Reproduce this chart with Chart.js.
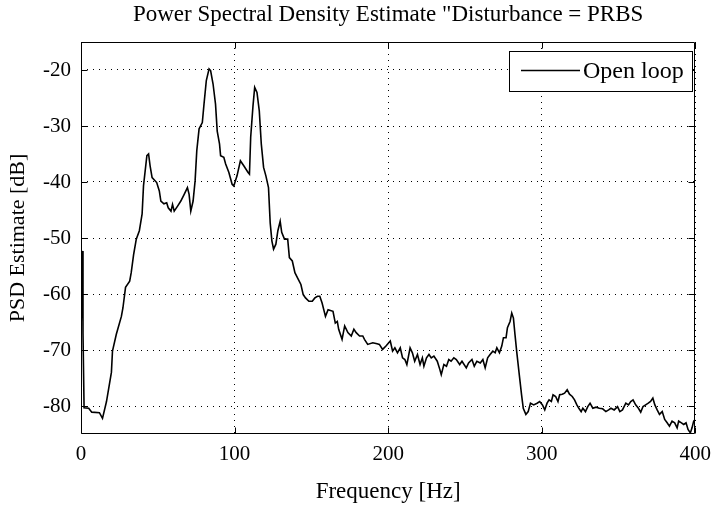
<!DOCTYPE html>
<html>
<head>
<meta charset="utf-8">
<script src="https://cdn.jsdelivr.net/npm/chart.js@4/dist/chart.umd.min.js"></script>
<style>
  html, body { margin: 0; padding: 0; background: #fff; }
  #wrap { width: 719px; height: 505px; position: relative; }
</style>
</head>
<body>
<div id="wrap"><canvas id="c" width="719" height="505"></canvas></div>
<script>
const chartTitle = 'Power Spectral Density Estimate "Disturbance = PRBS';
const xAxisLabel = 'Frequency [Hz]';
const yAxisLabel = 'PSD Estimate [dB]';
const seriesName = 'Open loop';
const xTicks = [0, 100, 200, 300, 400];
const yTicks = [-80, -70, -60, -50, -40, -30, -20];

const frequency = [
  0, 1, 1.3, 2, 5, 7, 12, 14, 16.6, 19.8, 20.5, 23, 26.3, 27.3, 29, 31.7, 32.7, 34.3, 36, 38, 39.8,
  40.7, 42.9, 44, 45, 46.3, 49.3, 51, 52, 54, 55.8, 56.8, 58.6, 59.6, 60.7, 62.9, 65, 67.2, 69.3, 70.4, 71.5,
  73, 74.3, 75.4, 76.9, 79, 80.1, 81.6, 83.4, 84.4, 86, 87.6, 88.7, 90.2, 90.9, 93, 94.2, 96.3, 98.4, 99.5, 101.6,
  103.8, 106, 108.8, 109.7, 110.5, 112, 113.1, 114.6, 116.1, 117.4, 118.9, 120.4, 122.1, 123.2, 124.3, 125.4, 126.9, 128.2, 129.7, 130.7,
  132.5, 134.6, 135.7, 137.6, 139.3, 141.5, 143.2, 144.7, 146.2, 148.4, 150.6, 152.3, 154, 155.5, 157, 159.2, 160.9, 164.1, 165.6, 166.9,
  167.8, 170, 171.7, 173.8, 176, 177.7, 179.2, 181.4, 183.5, 184.6, 186.7, 190, 192.8, 194.3, 196.4, 198.6, 201.4, 202.9, 204.4, 206.1,
  207.9, 209.4, 210.9, 212.2, 214.3, 215.8, 217.3, 219.1, 220.8, 222.3, 223.3, 225, 226.6, 228.1, 229.8, 232, 233.7, 234.6, 236.3, 238,
  239.5, 241, 242.8, 244.4, 246.6, 248.1, 250.9, 252.4, 254.6, 256.1, 257.8, 260, 261.7, 263.2, 264.8, 266.4, 268.2, 269.7, 270.8, 272.5,
  274, 275.1, 276.8, 277.7, 279.4, 280.5, 281.6, 282.6, 283.7, 285.4, 286.9, 288, 289.7, 291.2, 292.7, 294.8, 297, 298.7, 300.5, 302,
  303.5, 304.8, 306.3, 307.4, 309.1, 310.6, 311.7, 313.4, 314.9, 316.6, 318.1, 319.9, 321.4, 322.9, 324.2, 325.7, 326.8, 328.5, 330, 331.5,
  333.3, 335.4, 337.5, 339.7, 341.8, 343.6, 345.1, 347.2, 349.4, 350.9, 352.6, 354.8, 356.5, 358, 359.5, 361.2, 363, 364.5, 366, 367.7,
  369.4, 370.9, 372.4, 373.7, 375.2, 376.7, 378.5, 380.1, 381.7, 383.2, 384.9, 386.6, 388.2, 389.2, 391, 392.5, 394, 395.3, 396.8, 397.9,
  399, 400
];
const psdOpenLoop = [
  -67, -52.3, -67, -80.3, -80.4, -81.1, -81.2, -82.2, -79.2, -74, -70.2, -67.2, -64, -62.5, -58.8, -57.7, -56.2, -52.9, -50.2, -48.7, -45.7,
  -40.7, -35.3, -35, -37.1, -39.2, -40.1, -41.6, -43.4, -43.9, -43.7, -44.6, -45.2, -44, -45.2, -44.3, -43.4, -42.2, -41, -42.2, -45.2,
  -43.4, -39.8, -34.4, -30.5, -29.4, -26.1, -21.9, -19.8, -20.1, -22.5, -26.1, -30.9, -33.2, -35.3, -35.6, -36.8, -38.3, -40.4, -40.7, -38.9,
  -36.2, -37.1, -38.3, -38.6, -32, -26.4, -23.1, -24, -27.3, -33.2, -37.4, -38.9, -41, -47.3, -50.5, -52, -51.1, -48.7, -47, -49,
  -50.2, -50.2, -53.5, -54.1, -56.2, -57.4, -58.3, -60.1, -60.7, -61.3, -61.3, -60.7, -60.4, -60.4, -61.6, -64, -62.8, -63.1, -65.2, -64.9,
  -66.3, -68.1, -65.7, -66.9, -67.5, -66.3, -66.9, -67.5, -67.5, -68.1, -69, -68.7, -68.9, -69, -69.9, -69.3, -68.4, -70.2, -69.6, -70.5,
  -69.6, -71.4, -71.7, -72.6, -69.6, -70.5, -72, -70.8, -72.6, -71.4, -72.9, -71.4, -70.8, -71.4, -71.1, -72, -73.5, -74.4, -72.6, -72.9,
  -71.7, -72, -71.4, -71.7, -72.6, -72, -73.2, -72.3, -71.7, -72.9, -72, -72.3, -71.7, -73.2, -71.4, -70.8, -70.2, -70.5, -69.6, -70.5,
  -69.3, -67.8, -67.8, -66, -64.9, -63.4, -64.3, -67.2, -70.2, -74.4, -78, -80.4, -81.5, -81, -79.5, -79.8, -79.5, -79.2, -79.8, -80.7,
  -79.5, -78.9, -79.2, -78, -78.3, -79.2, -78, -77.9, -77.7, -77.1, -77.9, -78.3, -78.9, -79.8, -80.4, -81, -80.4, -81, -80.1, -79.5,
  -80.4, -80.2, -80.4, -80.5, -81, -80.7, -80.4, -80.7, -80.1, -81, -80.7, -79.5, -79.8, -79.2, -78.9, -79.8, -80.4, -81.1, -80.1, -79.8,
  -79.5, -79.2, -78.6, -79.8, -80.7, -81.5, -81, -82.4, -83, -83.6, -82.7, -83, -83.9, -82.7, -83, -83.3, -83, -84.2, -84.8, -83.9,
  -82.7, -82.4
];

const FONT = 'Liberation Serif';

const boxAndTicks = {
  id: 'boxAndTicks',
  afterDraw(chart) {
    const {ctx, chartArea: a, scales: {x, y}} = chart;
    const L = Math.round(a.left) + 0.5, R = Math.round(a.right) - 0.5;
    const T = Math.round(a.top) + 0.5, B = Math.round(a.bottom) - 0.5;
    ctx.save();
    ctx.strokeStyle = '#000';
    ctx.lineWidth = 1;
    ctx.setLineDash([]);
    ctx.beginPath();
    ctx.rect(L, T, R - L, B - T);
    const tl = 6;
    xTicks.forEach(v => {
      const px = Math.round(x.getPixelForValue(v)) + 0.5;
      ctx.moveTo(px, B); ctx.lineTo(px, B - tl);
      ctx.moveTo(px, T); ctx.lineTo(px, T + tl);
    });
    yTicks.forEach(v => {
      const py = Math.round(y.getPixelForValue(v)) + 0.5;
      ctx.moveTo(L, py); ctx.lineTo(L + tl, py);
      ctx.moveTo(R, py); ctx.lineTo(R - tl, py);
    });
    ctx.stroke();

    // title centred over the axes
    ctx.fillStyle = '#000';
    ctx.font = '23px "' + FONT + '"';
    ctx.textAlign = 'center';
    ctx.textBaseline = 'middle';
    ctx.fillText(chartTitle, (a.left + a.right) / 2, 15);

    // legend box
    const lx = 509.5, ly = 51.5, lw = 183, lh = 40;
    ctx.fillStyle = '#fff';
    ctx.fillRect(lx, ly, lw, lh);
    ctx.strokeRect(lx, ly, lw, lh);
    ctx.beginPath();
    ctx.lineWidth = 1.5;
    ctx.moveTo(521, 70.5); ctx.lineTo(580, 70.5);
    ctx.stroke();
    ctx.fillStyle = '#000';
    ctx.font = '24px "' + FONT + '"';
    ctx.textBaseline = 'middle';
    ctx.textAlign = 'left';
    ctx.fillText(seriesName, 583, 72);
    ctx.restore();
  }
};

new Chart(document.getElementById('c'), {
  type: 'line',
  data: {
    datasets: [{
      label: seriesName,
      data: frequency.map((f, i) => ({x: f, y: psdOpenLoop[i]})),
      borderColor: '#000',
      borderWidth: 1.6,
      pointRadius: 0,
      tension: 0,
      fill: false
    }]
  },
  options: {
    responsive: false,
    animation: false,
    devicePixelRatio: 1,
    layout: { padding: { left: 0, right: 19, top: 42, bottom: 0 } },
    plugins: {
      legend: { display: false },
      tooltip: { enabled: false },
      title: { display: false }
    },
    scales: {
      x: {
        type: 'linear',
        min: 0, max: 400,
        afterBuildTicks: s => { s.ticks = xTicks.map(v => ({value: v})); },
        afterFit: s => { s.height = 71; },
        grid: { color: '#000', lineWidth: 1, drawTicks: false },
        border: { display: false, dash: [1, 5] },
        ticks: { color: '#000', font: { family: FONT, size: 21 }, padding: 8, maxRotation: 0 },
        title: {
          display: true, text: xAxisLabel, color: '#000',
          font: { family: FONT, size: 23, lineHeight: 1.0 },
          padding: { top: 0, bottom: 2 }
        }
      },
      y: {
        type: 'linear',
        min: -85, max: -15,
        afterBuildTicks: s => { s.ticks = yTicks.map(v => ({value: v})); },
        afterFit: s => { s.width = 81; },
        grid: { color: '#000', lineWidth: 1, drawTicks: false },
        border: { display: false, dash: [1, 5] },
        ticks: { color: '#000', font: { family: FONT, size: 21 }, padding: 10 },
        title: {
          display: true, text: yAxisLabel, color: '#000',
          font: { family: FONT, size: 22, lineHeight: 1.0 },
          padding: { top: 7, bottom: 0 }
        }
      }
    }
  },
  plugins: [boxAndTicks]
});
</script>
</body>
</html>
